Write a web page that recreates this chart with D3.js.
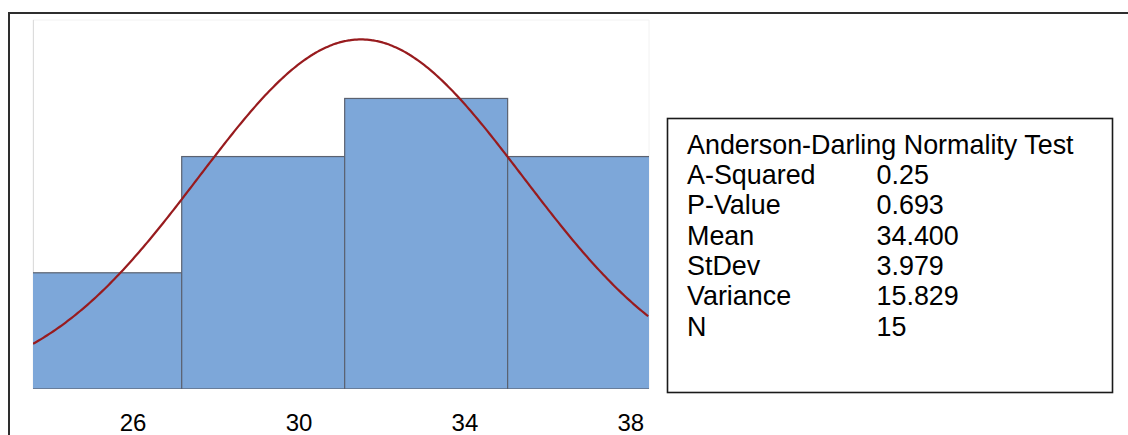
<!DOCTYPE html>
<html>
<head>
<meta charset="utf-8">
<script src="https://cdn.jsdelivr.net/npm/d3@7"></script>
<style>
    body { margin: 0; background: #fff; }
    svg { display: block; font-family: Arial, "Liberation Sans", sans-serif; }
</style>
</head>
<body>
<svg id="chart" width="1128" height="435"></svg>
<script>
// histogram data (bin edges + counts)
var binEdges = [26, 30, 34, 38, 42];
var binCounts = [2, 4, 5, 4];

// summary stats shown in the box
var statNames = ["A-Squared", "P-Value", "Mean", "StDev", "Variance", "N"];
var statValues = ["0.25", "0.693", "34.400", "3.979", "15.829", "15"];
var mean = 34.4,
    stDev = 3.979,
    n = 15;

// x axis labels (they sit a bit right of the bins in the original)
var tickLabels = [26, 30, 34, 38];

var svg = d3.select("#chart");

var plot = { left: 33, right: 649, top: 20, bottom: 389 };

// outer frame, only top and left edges show
svg.append("path")
    .attr("d", "M9,440V13H1135")
    .attr("fill", "none")
    .attr("stroke", "#2e2e2e")
    .attr("stroke-width", 2);

var xScale = d3.scaleLinear()
    .domain([26.35, 41.47])
    .range([plot.left, plot.right]);

var yScale = d3.scaleLinear()
    .domain([0, 6.35])
    .range([plot.bottom, plot.top]);

// scale used only for placing the label text
var xLabelScale = d3.scaleLinear()
    .domain([23.6, 38.45])
    .range([plot.left, plot.right]);

svg.append("defs").append("clipPath")
    .attr("id", "plotClip")
    .append("rect")
    .attr("x", plot.left)
    .attr("y", plot.top - 5)
    .attr("width", plot.right - plot.left)
    .attr("height", plot.bottom - plot.top + 5);

// faint plot frame
svg.append("path")
    .attr("d", "M" + plot.left + "," + plot.bottom + "V" + plot.top + "H" + plot.right + "V" + plot.bottom)
    .attr("fill", "none")
    .attr("stroke", "#f2f2f2")
    .attr("stroke-width", 1);
svg.append("line")
    .attr("x1", plot.left + 0.5).attr("x2", plot.left + 0.5)
    .attr("y1", plot.top).attr("y2", plot.bottom)
    .attr("stroke", "#dcdcdc");

var bins = binCounts.map(function (c, i) {
    return { x0: binEdges[i], x1: binEdges[i + 1], count: c };
});

svg.append("g")
    .attr("clip-path", "url(#plotClip)")
    .selectAll("rect")
    .data(bins)
    .enter()
    .append("rect")
    .attr("x", function (d) { return xScale(d.x0); })
    .attr("width", function (d) { return xScale(d.x1) - xScale(d.x0); })
    .attr("y", function (d) { return yScale(d.count); })
    .attr("height", function (d) { return yScale(0) - yScale(d.count); })
    .attr("fill", "#7da7d9")
    .attr("stroke", "#5b6270")
    .attr("stroke-width", 1.2);

// fitted normal curve, scaled to counts
var binWidth = binEdges[1] - binEdges[0];
var curvePts = d3.range(xScale.domain()[0], xScale.domain()[1] + 0.01, 0.05).map(function (u) {
    var z = (u - mean) / stDev;
    return [u, n * binWidth * Math.exp(-0.5 * z * z) / (stDev * Math.sqrt(2 * Math.PI))];
});

var line = d3.line()
    .x(function (d) { return xScale(d[0]); })
    .y(function (d) { return yScale(d[1]); })
    .curve(d3.curveMonotoneX);

svg.append("path")
    .datum(curvePts)
    .attr("clip-path", "url(#plotClip)")
    .attr("d", line)
    .attr("fill", "none")
    .attr("stroke", "#981b1e")
    .attr("stroke-width", 2.2);

var xAxis = d3.axisBottom(xLabelScale)
    .tickValues(tickLabels)
    .tickSize(0)
    .tickPadding(25)
    .tickFormat(d3.format("d"));

var axisG = svg.append("g")
    .attr("transform", "translate(0," + plot.bottom + ")")
    .call(xAxis);
axisG.select(".domain").remove();
axisG.selectAll("text")
    .attr("font-size", 24)
    .attr("font-family", "Arial, 'Liberation Sans', sans-serif")
    .attr("fill", "#000");

// stats box
svg.append("rect")
    .attr("x", 667.5)
    .attr("y", 118.5)
    .attr("width", 445)
    .attr("height", 274)
    .attr("fill", "#fff")
    .attr("stroke", "#1a1a1a")
    .attr("stroke-width", 1.6);

var box = svg.append("g")
    .attr("font-size", 26.9)
    .attr("fill", "#000");

box.append("text")
    .attr("x", 687)
    .attr("y", 153.5)
    .text("Anderson-Darling Normality Test");

var rowY = d3.scaleLinear().domain([0, 1]).range([183.8, 214.2]);

box.selectAll(".stat-name")
    .data(statNames)
    .enter()
    .append("text")
    .attr("class", "stat-name")
    .attr("x", 687)
    .attr("y", function (d, i) { return rowY(i); })
    .text(function (d) { return d; });

box.selectAll(".stat-value")
    .data(statValues)
    .enter()
    .append("text")
    .attr("class", "stat-value")
    .attr("x", 876.5)
    .attr("y", function (d, i) { return rowY(i); })
    .text(function (d) { return d; });
</script>
</body>
</html>
